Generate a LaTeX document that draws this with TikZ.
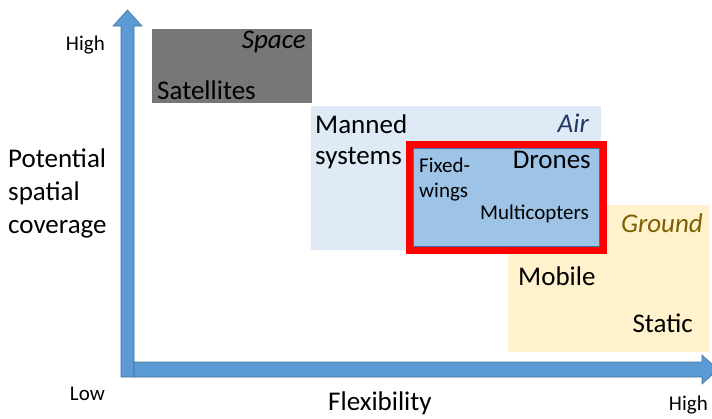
\documentclass[tikz,border=0pt]{standalone}
\usepackage{fontspec}
\setmainfont{Carlito}
\usetikzlibrary{positioning}
\definecolor{axisblue}{HTML}{5B9BD5}
\definecolor{axisedge}{HTML}{41719C}
\definecolor{spacegray}{HTML}{777777}
\definecolor{airblue}{HTML}{DEEBF7}
\definecolor{dronesblue}{HTML}{9DC3E6}
\definecolor{groundyellow}{HTML}{FFF2CC}
\definecolor{airtext}{HTML}{1F3864}
\definecolor{groundtext}{HTML}{7F6000}

\begin{document}
\begin{tikzpicture}[x=1pt,y=-1pt,
  area/.style={anchor=north west,inner sep=0,outer sep=0},
  big/.style={font=\fontsize{27}{30}\selectfont,inner sep=0},
  small/.style={font=\fontsize{21}{24}\selectfont,inner sep=0},
  realm/.style={font=\fontsize{27}{30}\selectfont\itshape,inner sep=0}]
  \useasboundingbox (0,0) rectangle (712,418);
  \clip (0,0) rectangle (712,418);

  % areas
  \node[area, fill=spacegray, minimum width=160pt, minimum height=74pt] (space) at (152,29) {};
  \node[area, fill=airblue, minimum width=290pt, minimum height=144pt] (air) at (311,106) {};
  \node[area, fill=groundyellow, minimum width=201pt, minimum height=147pt] (ground) at (508,205) {};
  \node[area, fill=dronesblue, draw=red, line width=7pt, minimum width=194pt, minimum height=106pt] (drones) at (409.5,144.5) {};
  \draw[axisedge, line width=0.8pt] ([xshift=4pt,yshift=-4pt]drones.north west) rectangle ([xshift=-4pt,yshift=4pt]drones.south east);

  % axes
  \filldraw[fill=axisblue, draw=axisedge, line width=0.6pt]
    (121,377) -- (121,26) -- (113,26) -- (127.5,10) -- (142,26) -- (134,26) -- (134,377) -- cycle;
  \filldraw[fill=axisblue, draw=axisedge, line width=0.6pt]
    (134,362) -- (702,362) -- (702,355) -- (718,369.5) -- (702,384) -- (702,377) -- (134,377) -- cycle;

  % labels
  \node[realm, anchor=base east] (spacelbl) at (306,48) {Space};
  \node[big, anchor=base west] (satellites) at (157,99) {Satellites};
  \node[realm, anchor=base east, text=airtext] (airlbl) at (589,132) {Air};
  \node[big, anchor=base west] (manned) at (315,133) {Manned};
  \node[big, anchor=base west] (systems) at (315,164) {systems};
  \node[small, anchor=base west] (fixed) at (419,172) {Fixed-};
  \node[small, anchor=base west] (wings) at (419,197) {wings};
  \node[big, anchor=base east] (droneslbl) at (591,168) {Drones};
  \node[small, anchor=base east] (multi) at (589,219) {Multicopters};
  \node[realm, anchor=base east, text=groundtext] (groundlbl) at (703,232) {Ground};
  \node[big, anchor=base west] (mobile) at (518,285) {Mobile};
  \node[big, anchor=base east] (static) at (693,332) {Static};

  \node[small, anchor=base east] (yhigh) at (105,50) {High};
  \node[small, anchor=base east] (ylow) at (105,400) {Low};
  \node[small, anchor=base east] (xhigh) at (708,410) {High};
  \node[big, anchor=base west] (xtitle) at (328,410) {Flexibility};
  \node[big, anchor=base west] (ytitle1) at (8,167) {Potential};
  \node[big, anchor=base west] (ytitle2) at (8,200) {spatial};
  \node[big, anchor=base west] (ytitle3) at (8,233) {coverage};
\end{tikzpicture}
\end{document}
